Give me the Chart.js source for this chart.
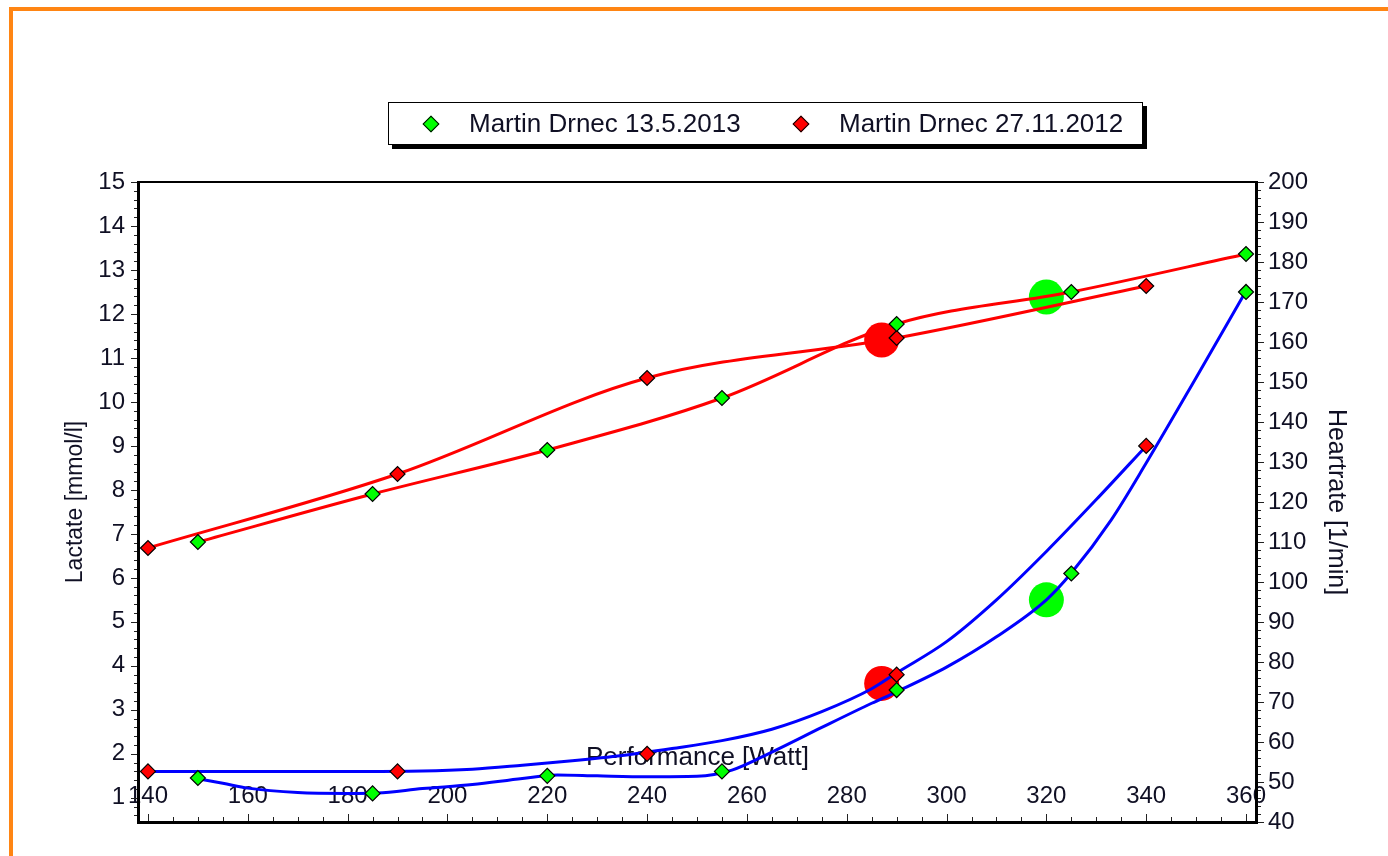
<!DOCTYPE html>
<html>
<head>
<meta charset="utf-8">
<script src="https://cdn.jsdelivr.net/npm/chart.js@4.4.1/dist/chart.umd.min.js"></script>
<style>
  html, body { margin: 0; padding: 0; background: #fff; overflow: hidden; }
  body { width: 1388px; height: 856px; position: relative; }
  .frame { position: absolute; left: 9px; top: 7px; width: 1500px; height: 1000px;
           border-top: 4px solid #ff8513; border-left: 4px solid #ff8513; }
  #wrap { position: absolute; left: 0; top: 0; width: 1388px; height: 856px; }
  .key { position: absolute; left: 388px; top: 102px; width: 755px; height: 43px; box-sizing: border-box;
         border: 1px solid #000; box-shadow: 4px 4px 0 #000; background: #fff;
         font: 26px "Liberation Sans", Arial, sans-serif; color: #101024; z-index: 2; }
  .key .item { position: absolute; top: 0; height: 41px; }
  .key .item0 { left: 36px; }
  .key .item1 { left: 406px; }
  .key .mark { position: absolute; left: 0; top: 15px; width: 10px; height: 10px;
               border: 1px solid #000; transform: rotate(45deg); }
  .key .label { position: absolute; left: 44px; top: 0; line-height: 41px; white-space: nowrap; }
</style>
</head>
<body>
<div class="frame"></div>
<div id="wrap"><canvas id="c"></canvas></div>
<div class="key" id="key"></div>
<script>
// sessions
const sessionNames = ['Martin Drnec 13.5.2013', 'Martin Drnec 27.11.2012'];
const sessionColours = ['#00ff00', '#ff0000'];

// measured steps, 13.5.2013
const wattsMay = [150, 185, 220, 255, 290, 325, 360];
const lactateMay = [1.45, 1.1, 1.5, 1.6, 3.45, 6.1, 12.5];
const heartMay = [110, 122, 133, 146, 164.5, 172.5, 182];

// measured steps, 27.11.2012
const wattsNov = [140, 190, 240, 290, 340];
const lactateNov = [1.6, 1.6, 2.0, 3.8, 9.0];
const heartNov = [108.5, 127, 151, 161, 174];

// fitted lactate curves
const fitWattsMay = [150, 155, 160, 170, 180, 186, 195, 205, 215, 222, 230, 240, 250, 257, 265, 275, 285, 290, 300, 310, 320, 325, 333, 340, 350, 360];
const fitLactateMay = [1.43, 1.33, 1.22, 1.12, 1.10, 1.11, 1.21, 1.30, 1.44, 1.52, 1.50, 1.48, 1.49, 1.63, 2.04, 2.60, 3.15, 3.41, 3.97, 4.66, 5.50, 6.11, 7.32, 8.61, 10.55, 12.52];
const fitWattsNov = [140, 180, 195, 205, 215, 225, 235, 245, 255, 265, 275, 285, 290, 300, 310, 320, 330, 340];
const fitLactateNov = [1.6, 1.6, 1.61, 1.65, 1.74, 1.84, 1.96, 2.12, 2.3, 2.56, 2.96, 3.48, 3.84, 4.55, 5.5, 6.6, 7.78, 9.0];

// thresholds (May, Nov)
const thresholdWatts = [320, 287];
const thresholdLactate = [5.5, 3.6];
const thresholdHeart = [171.25, 160.5];

// axis ticks
const wattTicks = [140, 160, 180, 200, 220, 240, 260, 280, 300, 320, 340, 360];
const lactateTicks = [1, 2, 3, 4, 5, 6, 7, 8, 9, 10, 11, 12, 13, 14, 15];
const heartTicks = [40, 50, 60, 70, 80, 90, 100, 110, 120, 130, 140, 150, 160, 170, 180, 190, 200];

const FONT = '"Liberation Sans", Arial, sans-serif';
const TEXT = '#101024';

function pts(xs, ys) {
  return xs.map((x, i) => ({ x, y: ys[i] }));
}

function addLegendToKey(key, names, colours) {
  names.forEach((name, i) => {
    const item = document.createElement('div');
    item.classList.add('item', 'item' + i);
    const mark = document.createElement('span');
    mark.classList.add('mark');
    mark.style.background = colours[i];
    item.append(mark);
    const label = document.createElement('span');
    label.classList.add('label');
    label.textContent = name;
    item.append(label);
    key.append(item);
  });
}

addLegendToKey(document.getElementById('key'), sessionNames, sessionColours);

// frame and small tick marks
const axisFrame = {
  id: 'axisFrame',
  afterDraw(chart) {
    const { ctx, chartArea: a, scales } = chart;
    ctx.save();
    ctx.strokeStyle = '#222';
    ctx.lineWidth = 1;
    const line = (x1, y1, x2, y2) => {
      ctx.beginPath(); ctx.moveTo(x1, y1); ctx.lineTo(x2, y2); ctx.stroke();
    };
    // left axis, every 0.2
    for (let i = 3; i <= 75; i++) {
      const v = i / 5;
      if (v < scales.y.min) continue;
      const y = Math.round(scales.y.getPixelForValue(v)) + 0.5;
      line(a.left - (i % 5 === 0 ? 8 : 5), y, a.left, y);
    }
    // right axis, every 2
    for (let v = 40; v <= 200; v += 2) {
      const y = Math.round(scales.y1.getPixelForValue(v)) + 0.5;
      line(a.right, y, a.right + (v % 10 === 0 ? 8 : 5), y);
    }
    // bottom axis, every 5 W
    for (let v = 140; v <= 360; v += 5) {
      const x = Math.round(scales.x.getPixelForValue(v)) + 0.5;
      line(x, a.bottom, x, a.bottom - (v % 20 === 0 ? 8 : 5));
    }
    ctx.fillStyle = '#000';
    ctx.fillRect(a.left - 2, a.top, 3, a.bottom - a.top + 2);
    ctx.fillRect(a.right - 1, a.top, 3, a.bottom - a.top + 2);
    ctx.fillRect(a.left - 2, a.bottom - 1, a.right - a.left + 4, 3);
    ctx.fillRect(a.left - 2, a.top - 1, a.right - a.left + 4, 2);
    ctx.restore();
  },
};

const curve = (data, colour, axis) => ({
  type: 'line',
  data,
  yAxisID: axis,
  borderColor: colour,
  borderWidth: 3,
  pointRadius: 0,
  fill: false,
  cubicInterpolationMode: 'monotone',
  order: 2,
});

const marks = (data, colour, axis) => ({
  type: 'scatter',
  data,
  yAxisID: axis,
  pointStyle: 'rectRot',
  pointRadius: 7.5,
  pointBackgroundColor: colour,
  pointBorderColor: '#000',
  pointBorderWidth: 1.2,
  order: 1,
});

const threshold = (data, axis) => ({
  type: 'scatter',
  data,
  yAxisID: axis,
  pointStyle: 'circle',
  pointRadius: 17.5,
  pointBackgroundColor: sessionColours,
  pointBorderWidth: 0,
  order: 3,
});

const datasets = [
  threshold(pts(thresholdWatts, thresholdLactate), 'y'),
  threshold(pts(thresholdWatts, thresholdHeart), 'y1'),
  curve(pts(fitWattsMay, fitLactateMay), '#0000ff', 'y'),
  curve(pts(fitWattsNov, fitLactateNov), '#0000ff', 'y'),
  curve(pts(wattsMay, heartMay), '#ff0000', 'y1'),
  curve(pts(wattsNov, heartNov), '#ff0000', 'y1'),
  marks(pts(wattsMay, lactateMay), sessionColours[0], 'y'),
  marks(pts(wattsNov, lactateNov), sessionColours[1], 'y'),
  marks(pts(wattsMay, heartMay), sessionColours[0], 'y1'),
  marks(pts(wattsNov, heartNov), sessionColours[1], 'y1'),
];

const tickFont = { family: FONT, size: 24 };
const noGrid = { display: false, drawTicks: false };

const options = {
  responsive: true,
  maintainAspectRatio: false,
  animation: false,
  layout: { padding: { top: 182, left: 0, right: 0, bottom: 0 } },
  plugins: { legend: { display: false }, tooltip: { enabled: false } },
  scales: {
    x: {
      type: 'linear',
      position: 'bottom',
      min: 138.2,
      max: 362,
      grid: noGrid,
      border: { display: false },
      afterBuildTicks: (s) => { s.ticks = wattTicks.map((v) => ({ value: v })); },
      afterFit: (s) => { s.height = 34; },
      ticks: { mirror: true, padding: 11, autoSkip: false, maxRotation: 0, color: TEXT, font: tickFont },
      title: { display: true, text: 'Performance [Watt]', color: TEXT, font: { family: FONT, size: 26 }, padding: { top: 0, bottom: 83 } },
    },
    y: {
      type: 'linear',
      position: 'left',
      min: 0.45,
      max: 15,
      grid: noGrid,
      border: { display: false },
      afterBuildTicks: (s) => { s.ticks = lactateTicks.map((v) => ({ value: v })); },
      afterFit: (s) => { s.width = 139; },
      ticks: { padding: 14, color: TEXT, font: tickFont },
      title: { display: true, text: 'Lactate [mmol/l]', color: TEXT, font: { family: FONT, size: 23 }, padding: { top: 62, bottom: 0 } },
    },
    y1: {
      type: 'linear',
      position: 'right',
      min: 40,
      max: 200,
      grid: noGrid,
      border: { display: false },
      afterBuildTicks: (s) => { s.ticks = heartTicks.map((v) => ({ value: v })); },
      afterFit: (s) => { s.width = 132; },
      ticks: { padding: 12, color: TEXT, font: tickFont },
      title: { display: true, text: 'Heartrate [1/min]', color: TEXT, font: { family: FONT, size: 25 }, padding: { top: 37, bottom: 0 } },
    },
  },
};

new Chart(document.getElementById('c'), {
  type: 'scatter',
  data: { datasets },
  options,
  plugins: [axisFrame],
});
</script>
</body>
</html>
